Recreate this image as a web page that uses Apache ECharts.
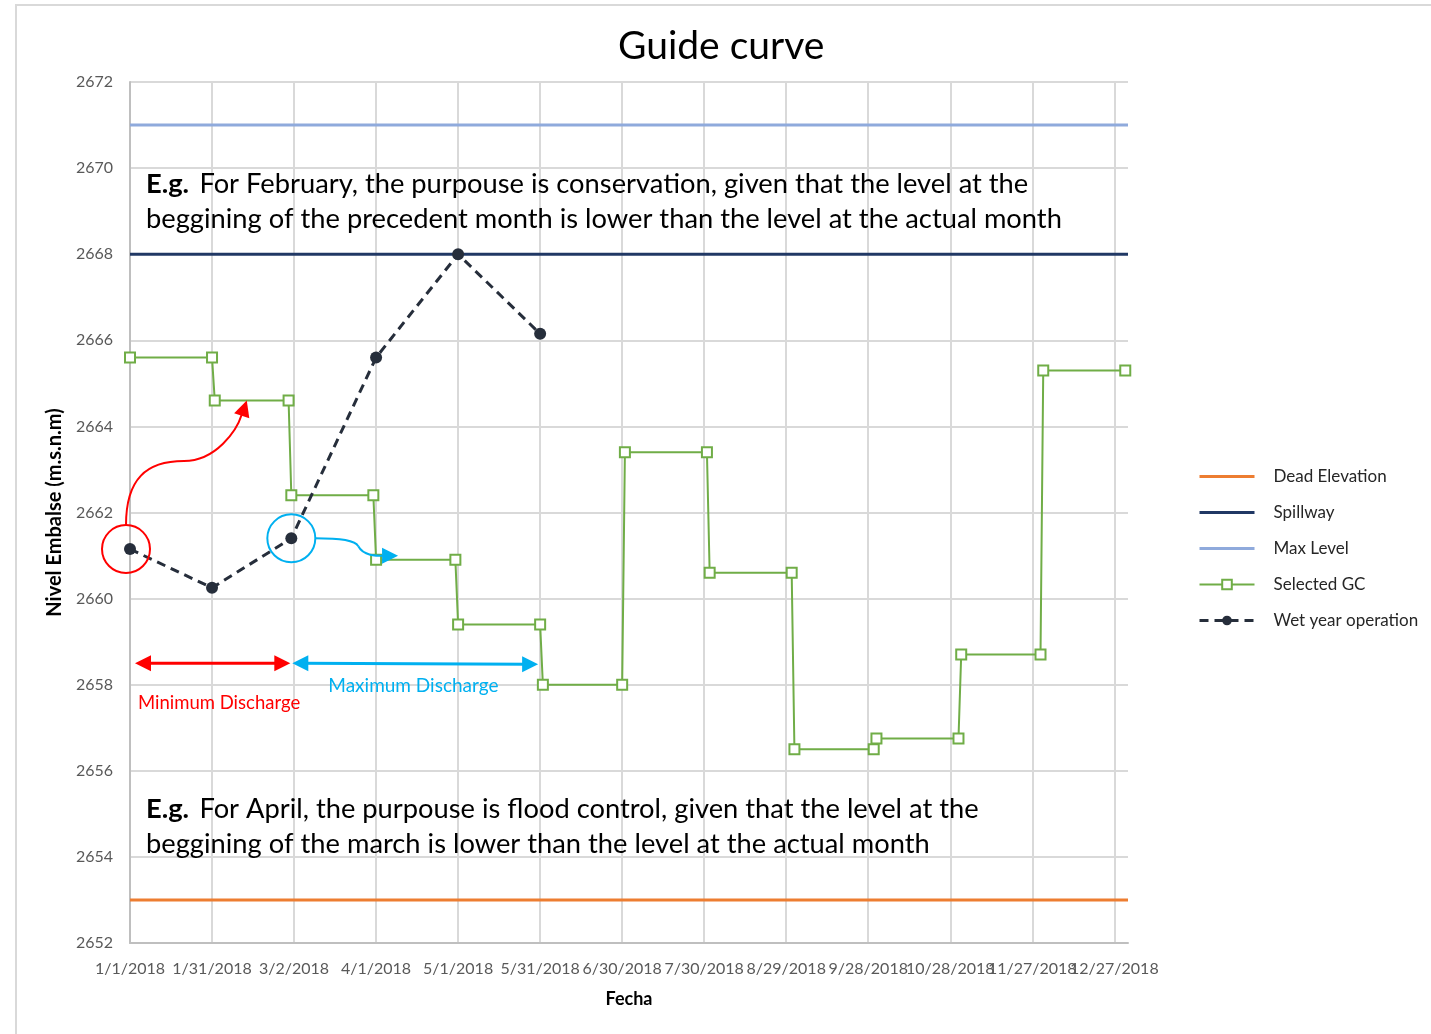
<!DOCTYPE html>
<html>
<head>
<meta charset="utf-8">
<title>Guide curve</title>
<script src="https://cdn.jsdelivr.net/npm/echarts@6/dist/echarts.min.js"></script>
<style>
  html, body { margin: 0; padding: 0; background: #fff; }
  #chart { width: 1431px; height: 1034px; }
</style>
</head>
<body>
<div id="chart"></div>
<script>
var FONT = 'Lato, "Open Sans", sans-serif'

// reference levels
var refDates = ['1/1/2018', '1/1/2019']
var deadElevation = 2653
var spillway = 2668
var maxLevel = 2671

// selected guide curve
var gcDates = ['1/1/2018', '1/31/2018', '2/1/2018', '2/28/2018', '3/1/2018', '3/31/2018',
  '4/1/2018', '4/30/2018', '5/1/2018', '5/31/2018', '6/1/2018', '6/30/2018',
  '7/1/2018', '7/31/2018', '8/1/2018', '8/31/2018', '9/1/2018', '9/30/2018',
  '10/1/2018', '10/31/2018', '11/1/2018', '11/30/2018', '12/1/2018', '12/31/2018']
var gcValues = [2665.6, 2665.6, 2664.6, 2664.6, 2662.4, 2662.4,
  2660.9, 2660.9, 2659.4, 2659.4, 2658.0, 2658.0,
  2663.4, 2663.4, 2660.6, 2660.6, 2656.5, 2656.5,
  2656.75, 2656.75, 2658.7, 2658.7, 2665.3, 2665.3]

// wet year operation
var wetDates = ['1/1/2018', '1/31/2018', '3/1/2018', '4/1/2018', '5/1/2018', '5/31/2018']
var wetValues = [2661.15, 2660.25, 2661.4, 2665.6, 2668.0, 2666.15]

var BASE = Date.UTC(2018, 0, 1)
var DAY = 86400000

function dayOf(s) {
  var p = s.split('/').map(Number)
  return (Date.UTC(p[2], p[0] - 1, p[1]) - BASE) / DAY
}
function dateLabel(v) {
  var d = new Date(BASE + v * DAY)
  return (d.getUTCMonth() + 1) + '/' + d.getUTCDate() + '/' + d.getUTCFullYear()
}
function pairs(dates, values) {
  return dates.map(function (d, i) { return [dayOf(d), values[i]] })
}
function flat(value) {
  return refDates.map(function (d) { return [dayOf(d), value] })
}

var chart = echarts.init(document.getElementById('chart'))

var noSymbol = { opacity: 0 }

var option = {
  backgroundColor: '#fff',
  textStyle: { fontFamily: FONT },
  title: {
    text: 'Guide curve',
    left: 613,
    top: 22,
    textStyle: { fontFamily: FONT, fontSize: 39, fontWeight: 'normal', color: '#000' }
  },
  legend: {
    orient: 'vertical',
    left: 1198,
    top: 468,
    padding: 0,
    itemWidth: 55,
    itemHeight: 12,
    itemGap: 19,
    textStyle: { fontFamily: FONT, fontSize: 17, color: '#262626', padding: [0, 0, 0, 14] },
    data: [
      { name: 'Dead Elevation', itemStyle: noSymbol, lineStyle: { width: 3 } },
      { name: 'Spillway', itemStyle: noSymbol, lineStyle: { width: 3 } },
      { name: 'Max Level', itemStyle: noSymbol, lineStyle: { width: 3 } },
      { name: 'Selected GC', lineStyle: { width: 2 } },
      { name: 'Wet year operation', lineStyle: { width: 3 } }
    ]
  },
  grid: {
    left: 130,
    right: 303,
    top: 82,
    bottom: 91,
    containLabel: false,
    outerBoundsMode: 'none'
  },
  xAxis: {
    type: 'value',
    min: 0,
    max: 365,
    interval: 30,
    name: 'Fecha',
    nameLocation: 'middle',
    nameGap: 47,
    nameTextStyle: { fontFamily: FONT, fontSize: 18, fontWeight: 'bold', color: '#000' },
    axisLine: { show: true, lineStyle: { color: '#bfbfbf', width: 2 } },
    axisTick: { show: false },
    axisLabel: {
      showMaxLabel: false,
      margin: 18,
      fontFamily: FONT,
      fontSize: 16,
      color: '#595959',
      formatter: dateLabel
    },
    splitLine: { show: true, showMaxLine: false, lineStyle: { color: '#d9d9d9', width: 2 } }
  },
  yAxis: {
    type: 'value',
    min: 2652,
    max: 2672,
    interval: 2,
    name: 'Nivel Embalse (m.s.n.m)',
    nameLocation: 'middle',
    nameGap: 64,
    nameTextStyle: { fontFamily: FONT, fontSize: 20, fontWeight: 'bold', color: '#000' },
    axisLine: { show: true, lineStyle: { color: '#bfbfbf', width: 2 } },
    axisTick: { show: false },
    axisLabel: {
      margin: 17,
      fontFamily: FONT,
      fontSize: 16,
      color: '#595959',
      formatter: function (v) { return String(v) }
    },
    splitLine: { show: true, lineStyle: { color: '#d9d9d9', width: 2 } }
  },
  series: [
    {
      name: 'Dead Elevation',
      type: 'line',
      symbol: 'none',
      lineStyle: { color: '#ED7D31', width: 3 },
      itemStyle: { color: '#ED7D31' },
      data: flat(deadElevation)
    },
    {
      name: 'Spillway',
      type: 'line',
      symbol: 'none',
      lineStyle: { color: '#203864', width: 3 },
      itemStyle: { color: '#203864' },
      data: flat(spillway)
    },
    {
      name: 'Max Level',
      type: 'line',
      symbol: 'none',
      lineStyle: { color: '#8FAADC', width: 3 },
      itemStyle: { color: '#8FAADC' },
      data: flat(maxLevel)
    },
    {
      name: 'Selected GC',
      type: 'line',
      symbol: 'rect',
      symbolSize: 10,
      showAllSymbol: true,
      lineStyle: { color: '#70AD47', width: 2 },
      itemStyle: { color: '#fff', borderColor: '#70AD47', borderWidth: 2 },
      data: pairs(gcDates, gcValues)
    },
    {
      name: 'Wet year operation',
      type: 'line',
      symbol: 'circle',
      symbolSize: 12,
      lineStyle: { color: '#262E3B', width: 3, type: [9, 6] },
      itemStyle: { color: '#262E3B' },
      data: pairs(wetDates, wetValues)
    }
  ]
}

chart.setOption(option)

// annotations, placed from data coordinates
function px(date, value) {
  return chart.convertToPixel({ gridIndex: 0 }, [dayOf(date), value])
}
function head(x, y, angle, color) {
  var L = 16
  var W = 8
  var c = Math.cos(angle)
  var s = Math.sin(angle)
  return {
    type: 'polygon',
    z: 20,
    shape: { points: [[x, y], [x - L * c - W * s, y - L * s + W * c], [x - L * c + W * s, y - L * s - W * c]] },
    style: { fill: color }
  }
}
function curve(p0, c1, c2, p1, color) {
  return {
    type: 'bezierCurve',
    z: 20,
    shape: { x1: p0[0], y1: p0[1], cpx1: c1[0], cpy1: c1[1], cpx2: c2[0], cpy2: c2[1], x2: p1[0], y2: p1[1] },
    style: { fill: 'none', stroke: color, lineWidth: 2 }
  }
}

var RED = '#FF0000'
var BLUE = '#00B0F0'
var pStart = px(wetDates[0], wetValues[0])
var pMar = px(wetDates[2], wetValues[2])
var yArrow = px('1/1/2018', 2658.5)[1]
var xJan = px('1/1/2018', 2658)[0]
var xMar = pMar[0]
var xJun = px('5/31/2018', 2658)[0]
var gFeb = px('2/1/2018', 2664.6)
var gApr = px('4/1/2018', 2660.9)

var rx = pStart[0] - 4
var ry = pStart[1]
var redMid = [rx + 58, ry - 88]
var blueMid = [xMar + 67, pMar[1] + 8]

var richNote = {
  b: { fontFamily: FONT, fontSize: 27.3, fontWeight: 'bold', color: '#000', lineHeight: 35 },
  n: { fontFamily: FONT, fontSize: 27.3, color: '#000', lineHeight: 35 }
}

chart.setOption({
  graphic: [
    {
      type: 'rect',
      silent: true,
      shape: { x: 16, y: 5, width: 1500, height: 1100 },
      style: { fill: 'none', stroke: '#d9d9d9', lineWidth: 2 }
    },
    {
      type: 'text',
      x: 146,
      y: 167,
      z: 20,
      style: {
        text: '{b|E.g.} {n| For February, the purpouse is conservation, given that the level at the}\n{n|beggining of the precedent month is lower than the level at the actual month}',
        rich: richNote
      }
    },
    {
      type: 'text',
      x: 146,
      y: 792,
      z: 20,
      style: {
        text: '{b|E.g.} {n| For April, the purpouse is flood control, given that the level at the}\n{n|beggining of the march is lower than the level at the actual month}',
        rich: richNote
      }
    },
    {
      type: 'circle',
      z: 20,
      shape: { cx: rx, cy: ry, r: 24 },
      style: { fill: 'none', stroke: RED, lineWidth: 2 }
    },
    curve([rx, ry - 24], [rx, ry - 70], [rx + 20, ry - 88], redMid, RED),
    curve(redMid, [rx + 90, ry - 88], [gFeb[0] + 22, gFeb[1] + 30], [gFeb[0] + 27, gFeb[1] + 14], RED),
    head(gFeb[0] + 32, gFeb[1], -1.25, RED),
    {
      type: 'circle',
      z: 20,
      shape: { cx: pMar[0], cy: pMar[1], r: 24 },
      style: { fill: 'none', stroke: BLUE, lineWidth: 2 }
    },
    curve([pMar[0] + 24, pMar[1]], [pMar[0] + 50, pMar[1]], [pMar[0] + 64, pMar[1] + 2], blueMid, BLUE),
    curve(blueMid, [pMar[0] + 72, gApr[1] - 4], [pMar[0] + 85, gApr[1] - 4], [gApr[0] + 8, gApr[1] - 4], BLUE),
    head(gApr[0] + 22, gApr[1] - 4, 0, BLUE),
    {
      type: 'line',
      z: 20,
      shape: { x1: xJan + 10, y1: yArrow, x2: xMar - 10, y2: yArrow },
      style: { stroke: RED, lineWidth: 3 }
    },
    head(xJan + 5, yArrow, Math.PI, RED),
    head(xMar - 1, yArrow, 0, RED),
    {
      type: 'line',
      z: 20,
      shape: { x1: xMar + 10, y1: yArrow, x2: xJun - 12, y2: yArrow + 1 },
      style: { stroke: BLUE, lineWidth: 3 }
    },
    head(xMar + 1, yArrow, Math.PI, BLUE),
    head(xJun - 2, yArrow + 1, 0, BLUE),
    {
      type: 'text',
      z: 20,
      x: xJan + 8,
      y: yArrow + 30,
      style: { text: 'Minimum Discharge', fontFamily: FONT, fontSize: 18.5, fill: RED }
    },
    {
      type: 'text',
      z: 20,
      x: xMar + 37,
      y: yArrow + 13,
      style: { text: 'Maximum Discharge', fontFamily: FONT, fontSize: 19, fill: BLUE }
    }
  ]
})
</script>
</body>
</html>
